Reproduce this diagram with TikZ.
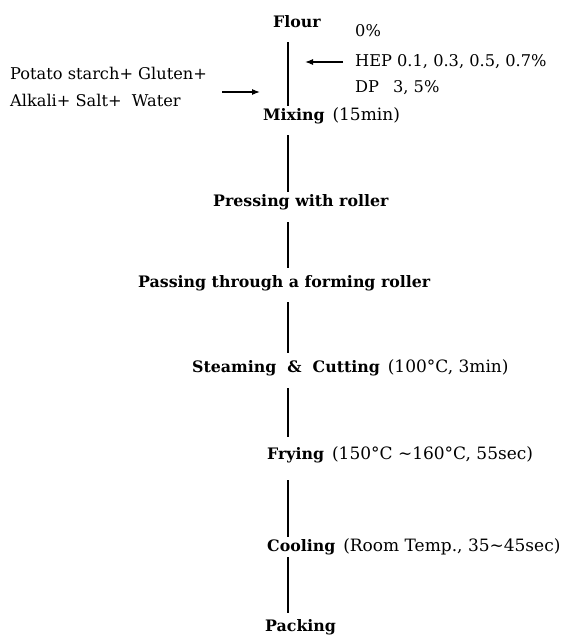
\documentclass[tikz,border=0pt]{standalone}
\usepackage{fontspec}
\setmainfont{DejaVu Serif}
\usetikzlibrary{arrows.meta}
\newcommand{\plainpart}[1]{{\mdseries\fontsize{17}{19}\selectfont #1}}
\begin{document}
\begin{tikzpicture}[x=1pt,y=-1pt,
  stage/.style={anchor=west,inner sep=0pt,text height=11pt,text depth=3pt,
    font=\bfseries\fontsize{15.8}{18}\selectfont},
  note/.style={anchor=west,inner sep=0pt,text height=11pt,text depth=3pt,
    font=\fontsize{16.2}{18}\selectfont},
  flow/.style={line width=1.1pt},
  arr/.style={line width=1.1pt,-{Latex[length=8pt,width=6pt]}}]
\useasboundingbox (0,0) rectangle (566,635);
\coordinate (sp) at (288,0);
\coordinate (tipA) at (305,62);
\coordinate (tipB) at (260,92);
% stages
\node[stage] (flour)    at (273,23)  {Flour};
\node[stage] (mixing)   at (263,116) {Mixing\enspace\plainpart{(15min)}};
\node[stage] (pressing) at (213,202) {Pressing with roller};
\node[stage] (passing)  at (138,283) {Passing through a forming roller};
\node[stage] (steaming) at (192,368) {Steaming \ \& \ Cutting\enspace\plainpart{(100°C, 3min)}};
\node[stage] (frying)   at (267,455) {Frying\enspace\plainpart{(150°C \textasciitilde160°C, 55sec)}};
\node[stage] (cooling)  at (267,547) {Cooling\enspace\plainpart{(Room Temp., 35\textasciitilde45sec)}};
\node[stage] (packing)  at (265,627) {Packing};
% side notes
\node[note] (zero) at (355,32) {0\%};
\node[note] (hep)  at (355,62) {HEP 0.1, 0.3, 0.5, 0.7\%};
\node[note] (dp)   at (355,88) {DP\hspace{14pt}3, 5\%};
\node[note] (in1)  at (10,75)  {Potato starch+ Gluten+};
\node[note] (in2)  at (10,102) {Alkali+ Salt+ \ Water};
% flow line
\draw[flow,shorten <=12pt,shorten >=3pt] (flour.south -| sp) -- (mixing.north -| sp);
\draw[flow,shorten <=12pt,shorten >=3pt] (mixing.south -| sp) -- (pressing.north -| sp);
\draw[flow,shorten <=13pt,shorten >=8pt] (pressing.south -| sp) -- (passing.north -| sp);
\draw[flow,shorten <=12pt,shorten >=8pt] (passing.south -| sp) -- (steaming.north -| sp);
\draw[flow,shorten <=13pt,shorten >=11pt] (steaming.south -| sp) -- (frying.north -| sp);
\draw[flow,shorten <=18pt,shorten >=3pt] (frying.south -| sp) -- (cooling.north -| sp);
\draw[flow,shorten <=3pt,shorten >=7pt] (cooling.south -| sp) -- (packing.north -| sp);
% arrows
\draw[arr,shorten <=12pt] (hep.west) -- (tipA);
\draw[arr] ([xshift=15pt]in1.east |- tipB) -- (tipB);
\end{tikzpicture}
\end{document}
